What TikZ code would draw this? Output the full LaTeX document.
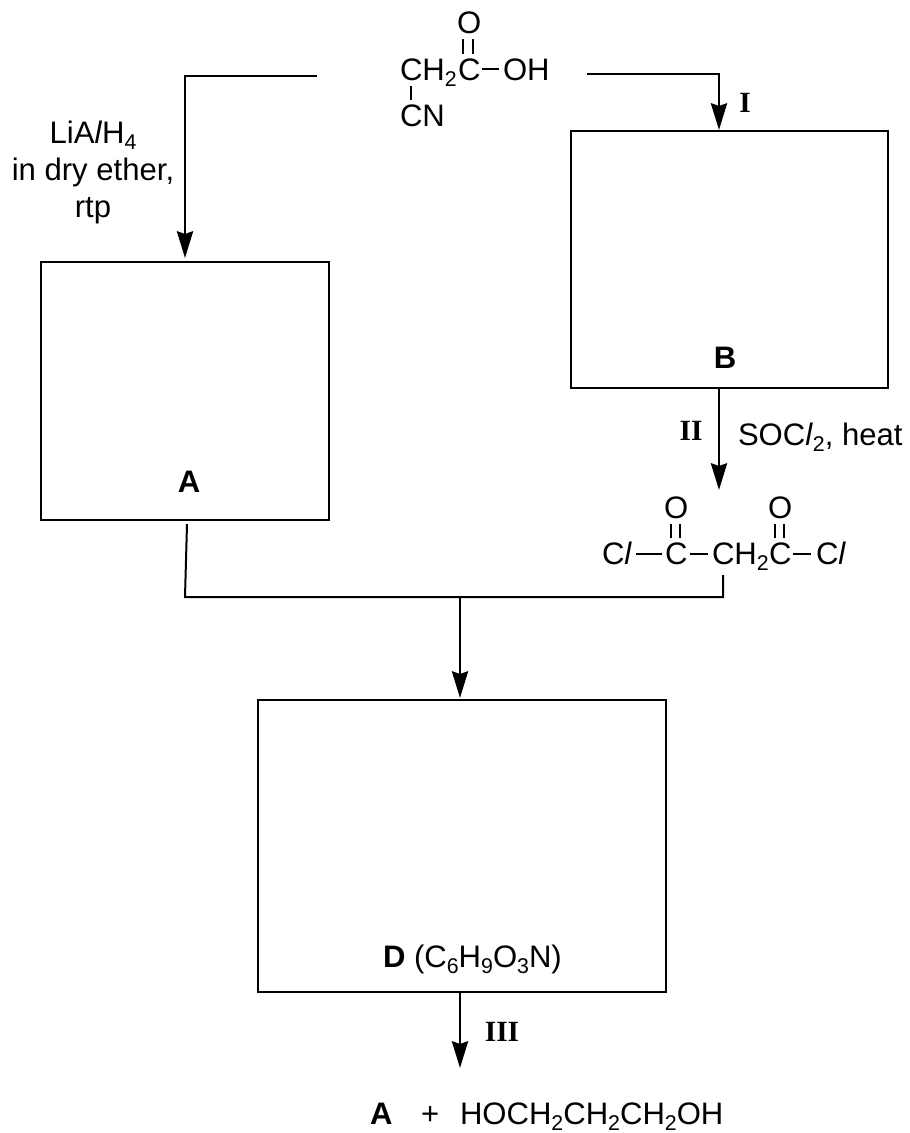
\documentclass[tikz,border=0pt]{standalone}
\usepackage{fontspec}
\setmainfont{Liberation Sans}
\newfontfamily\romanfont{Liberation Serif}
\usetikzlibrary{arrows.meta,positioning}
\newcommand{\chemsub}[1]{\raisebox{-.2em}{\fontsize{16}{16}\selectfont #1}}
\newcommand{\elL}{\textit{l}}
\tikzset{
  chem/.style={anchor=base west,inner sep=0pt,outer sep=0pt,font=\fontsize{23.3}{27.75}\selectfont},
  numeral/.style={inner sep=0pt,font=\fontsize{22}{22}\selectfont\romanfont\bfseries},
  rbox/.style={draw,line width=1.6pt,inner sep=0pt,outer sep=0pt},
  rline/.style={line width=1.5pt},
  rxn/.style={line width=2.2pt,-{Stealth[length=20pt,width=12pt,inset=2pt]}},
  bond/.style={line width=1.3pt}
}
\begin{document}
\begin{tikzpicture}[x=.75pt,y=-.75pt]
  \useasboundingbox (0,0) rectangle (910,1133);

  % boxes
  \node[rbox,minimum width=216pt,minimum height=193.5pt] (boxA) at (185,391) {};
  \node[rbox,minimum width=237.75pt,minimum height=192.75pt] (boxB) at (729.5,259.5) {};
  \node[rbox,minimum width=306pt,minimum height=219pt] (boxD) at (462,846) {};
  \node[chem,anchor=center,font=\fontsize{23.3}{23.3}\selectfont\bfseries] (labelA) at (189,482) {A};
  \node[chem,anchor=center,font=\fontsize{23.3}{23.3}\selectfont\bfseries] (labelB) at (725,358) {B};
  \node[chem] (labelD) at (383,967) {\textbf{D} (C\chemsub{6}H\chemsub{9}O\chemsub{3}N)};

  % starting acid
  \node[chem] (acidCH) at (400,80) {CH\chemsub{2}};
  \node[chem] (acidC) at (458,80) {C};
  \node[chem] (acidOH) at (503,80) {OH};
  \node[chem] (acidO) at (457,33) {O};
  \node[chem] (acidCN) at (400,126) {CN};
  \draw[bond] (482,69) -- (499,69);
  \draw[bond] (463,54) -- (463,39) (473,54) -- (473,39);
  \draw[bond] (411,86) -- (411,100);

  % acid chloride
  \node[chem] (clLeft) at (602,564) {C\elL};
  \node[chem] (chlorC) at (665,564) {C};
  \node[chem] (chlorCH) at (712,564) {CH\chemsub{2}};
  \node[chem] (chlorD) at (769,564) {C};
  \node[chem] (clRight) at (816,564) {C\elL};
  \node[chem] (chlorO) at (664,518) {O};
  \node[chem] (chlorP) at (768,518) {O};
  \draw[bond] (636,554) -- (662,554);
  \draw[bond] (690,554) -- (708,554);
  \draw[bond] (793,554) -- (811,554);
  \draw[bond] (671,538) -- (671,524) (680,538) -- (680,524);
  \draw[bond] (775,538) -- (775,524) (784,538) -- (784,524);

  % reagents
  \node[chem,anchor=center,align=center] (reagentA) at (93,172) {LiA\elL{}H\chemsub{4}\\in dry ether,\\rtp};
  \node[chem] (reagentB) at (738,445) {SOC\elL\chemsub{2}, heat};
  \node[numeral] (stepI) at (745,103) {I};
  \node[numeral] (stepII) at (691,431) {II};
  \node[numeral] (stepIII) at (502,1032) {III};

  % products
  \node[chem,font=\fontsize{23.3}{23.3}\selectfont\bfseries] (prodA) at (370,1124) {A};
  \node[chem] (prodPlus) at (421,1124) {+};
  \node[chem] (prodDiol) at (460,1124) {HOCH\chemsub{2}CH\chemsub{2}CH\chemsub{2}OH};

  % connectors
  \coordinate (startL) at (317,76);
  \coordinate (startR) at (587,74);
  \coordinate (turnR) at (719,74);
  \coordinate (inB) at (719,130);
  \coordinate (outB) at (719,388);
  \coordinate (inChlor) at (719,490);
  \coordinate (outA) at (187,524);
  \coordinate (joinA) at (185,597);
  \coordinate (joinB) at (723,597);
  \coordinate (outChlor) at (723,575);
  \coordinate (joinD) at (460,597);
  \coordinate (inD) at (460,698);
  \coordinate (outD) at (460,992);
  \coordinate (endD) at (460,1068);

  \draw[rxn] (startL) -| ([yshift=3pt]boxA.north);
  \draw[rxn] (startR) -- (turnR) -- (inB);
  \draw[rxn] (outB) -- (inChlor);
  \draw[rline] (outA) -- (joinA) -- (joinB) -- (outChlor);
  \draw[rxn] (joinD) -- (inD);
  \draw[rxn] (outD) -- (endD);
\end{tikzpicture}
\end{document}
